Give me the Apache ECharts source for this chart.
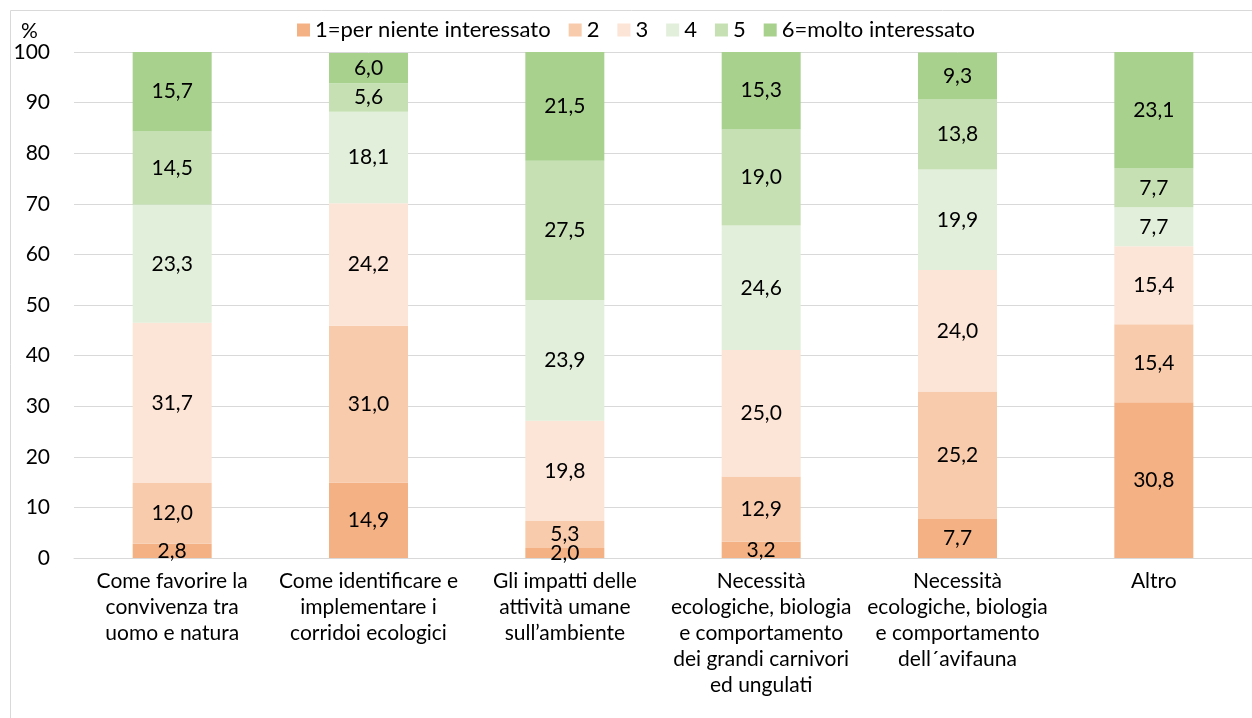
<!DOCTYPE html>
<html>
<head>
<meta charset="utf-8">
<script src="https://cdn.jsdelivr.net/npm/echarts@6/dist/echarts.min.js"></script>
<style>
  html, body { margin: 0; padding: 0; background: #fff; }
  #chart { width: 1252px; height: 718px; }
</style>
</head>
<body>
<div id="chart"></div>
<script>
const categories = [
  'Come favorire la\nconvivenza tra\nuomo e natura',
  'Come identificare e\nimplementare i\ncorridoi ecologici',
  'Gli impatti delle\nattività umane\nsull\u2019ambiente',
  'Necessità\necologiche, biologia\ne comportamento\ndei grandi carnivori\ned ungulati',
  'Necessità\necologiche, biologia\ne comportamento\ndell\u00b4avifauna',
  'Altro'
]
const seriesNames = ['1=per niente interessato', '2', '3', '4', '5', '6=molto interessato']
const colors = ['#f4b183', '#f8cbad', '#fce4d6', '#e2efda', '#c6e0b4', '#a9d18e']
const level1 = [2.8, 14.9, 2.0, 3.2, 7.7, 30.8]
const level2 = [12.0, 31.0, 5.3, 12.9, 25.2, 15.4]
const level3 = [31.7, 24.2, 19.8, 25.0, 24.0, 15.4]
const level4 = [23.3, 18.1, 23.9, 24.6, 19.9, 7.7]
const level5 = [14.5, 5.6, 27.5, 19.0, 13.8, 7.7]
const level6 = [15.7, 6.0, 21.5, 15.3, 9.3, 23.1]
const levels = [level1, level2, level3, level4, level5, level6]

const font = 'Lato, "Open Sans", sans-serif'
const fs = 21
const chart = echarts.init(document.getElementById('chart'))

chart.setOption({
  animation: false,
  textStyle: { fontFamily: font },
  graphic: [
    { type: 'rect', shape: { x: 10.5, y: 10.5, width: 1400, height: 900 }, style: { fill: 'none', stroke: '#d9d9d9', lineWidth: 1 } },
    { type: 'text', left: 21, top: 21, style: { text: '%', font: fs + 'px ' + font, fill: '#000' } }
  ],
  legend: {
    top: 14,
    left: 292,
    itemWidth: 13,
    itemHeight: 13,
    itemGap: 18,
    icon: 'rect',
    textStyle: { fontSize: 22, color: '#000', fontFamily: font },
    data: seriesNames
  },
  grid: { left: 74, right: -13, top: 52, bottom: 160, containLabel: false },
  xAxis: {
    type: 'category',
    data: categories,
    axisLine: { lineStyle: { color: '#d9d9d9' } },
    axisTick: { show: false },
    axisLabel: { color: '#000', fontSize: fs, lineHeight: 26, margin: 10, interval: 0, fontFamily: font }
  },
  yAxis: {
    type: 'value',
    min: 0,
    max: 100,
    interval: 10,
    axisLine: { show: false },
    axisTick: { show: false },
    splitLine: { lineStyle: { color: '#d9d9d9' } },
    axisLabel: { color: '#000', fontSize: fs, margin: 24, fontFamily: font }
  },
  series: levels.map((vals, i) => ({
    name: seriesNames[i],
    type: 'bar',
    stack: 'total',
    barWidth: 79,
    data: vals,
    itemStyle: { color: colors[i] },
    label: {
      show: true,
      position: 'inside',
      color: '#000',
      fontSize: fs,
      fontFamily: font,
      formatter: p => p.value.toFixed(1).replace('.', ',')
    }
  }))
})
</script>
</body>
</html>
